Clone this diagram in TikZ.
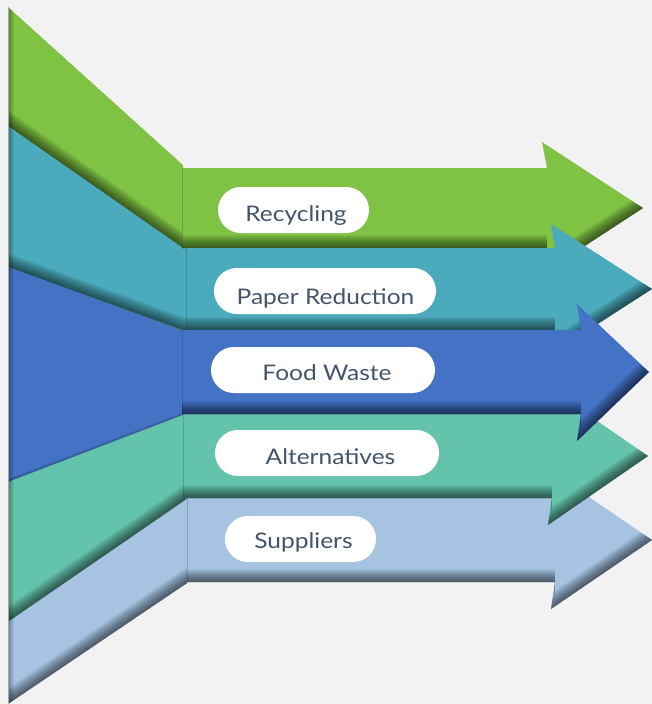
\documentclass[tikz,border=0pt]{standalone}
\usepackage{fontspec}
\setmainfont[FakeStretch=1.14]{Lato}
\definecolor{bg}{HTML}{F2F2F2}
\definecolor{cgreen}{HTML}{7FC244}
\definecolor{cteal}{HTML}{4BAABB}
\definecolor{cblue}{HTML}{4472C4}
\definecolor{cmint}{HTML}{64C3AB}
\definecolor{csky}{HTML}{A6C4E2}
\definecolor{ctext}{HTML}{44546A}
\definecolor{cunder}{HTML}{5A7480}
\newcommand{\softedge}[1]{\foreach \w in {2,4,...,26}{\draw[black,opacity=0.05,line width=\w pt,line cap=butt,line join=round] #1;}}
\newcommand{\softleft}[1]{\foreach \w in {2,4,...,12}{\draw[black,opacity=0.06,line width=\w pt,line cap=butt] #1;}}
\newcommand{\seam}[1]{\draw[black,opacity=0.16,line width=1.4pt] #1;}
\tikzset{
  pill/.style={fill=white,rounded corners=22.9pt,minimum height=46pt,inner sep=0pt},
  lbl/.style={anchor=base,inner sep=0pt,text=ctext,font=\fontsize{21.5}{25}\selectfont},
}
\begin{document}
\begin{tikzpicture}[x=1pt,y=-1pt]
\useasboundingbox (0,0) rectangle (652,704);
\fill[bg] (0,0) rectangle (652,704);
% underlay to hide hairline seams
\fill[cunder] (9,20) -- (183,170) -- (187,583) -- (9,700) -- cycle;
\fill[cunder] (184,170) rectangle (548,580);
% ---------- funnel pieces ----------
\begin{scope}
\clip (8,7) -- (183,165) -- (183,248) -- (8,126) -- cycle;
\fill[cgreen] (8,7) -- (183,165) -- (183,248) -- (8,126) -- cycle;
\softedge{(0,120.5) -- (190,253)}
\softleft{(8,0) -- (8,140)}
\end{scope}
\begin{scope}
\clip (8,126) -- (183,248) -- (186,248) -- (186,331) -- (8,267) -- cycle;
\fill[cteal] (8,126) -- (183,248) -- (186,248) -- (186,331) -- (8,267) -- cycle;
\softedge{(0,264) -- (195,335)}
\softleft{(8,110) -- (8,280)}
\end{scope}
\begin{scope}
\clip (8,267) -- (183,331) -- (183,415) -- (8,482) -- cycle;
\fill[cblue] (8,267) -- (183,331) -- (183,415) -- (8,482) -- cycle;
\foreach \w in {2,4,6}{\draw[black,opacity=0.08,line width=\w pt] (0,485) -- (195,411);}
\softleft{(8,250) -- (8,500)}
\end{scope}
\begin{scope}
\clip (8,482) -- (183,415) -- (185,415) -- (185,500) -- (8,622) -- cycle;
\fill[cmint] (8,482) -- (183,415) -- (185,415) -- (185,500) -- (8,622) -- cycle;
\softedge{(0,627.5) -- (195,493)}
\softleft{(8,470) -- (8,640)}
\end{scope}
\begin{scope}
\clip (8,622) -- (187,499) -- (187,583) -- (8,704) -- cycle;
\fill[csky] (8,622) -- (187,499) -- (187,583) -- (8,704) -- cycle;
\softedge{(0,709.5) -- (197,576)}
\softleft{(8,600) -- (8,704)}
\end{scope}
\draw[gray!70,line width=0.8pt] (8,7) -- (8,704);
% ---------- arrows ----------
% green
\begin{scope}
\clip (182,168) -- (547,168) -- (542,142) -- (643,208) -- (542,274) -- (547,248) -- (182,248) -- cycle;
\fill[cgreen] (182,168) -- (547,168) -- (542,142) -- (643,208) -- (542,274) -- (547,248) -- (182,248) -- cycle;
\softedge{(182,248) -- (547,248)}
\softedge{(542,274) -- (643,208)}
\seam{(182,160) -- (182,255)}
\end{scope}
% teal
\begin{scope}
\clip (186,248) -- (555,248) -- (551,224) -- (652,289) -- (551,354) -- (555,330) -- (186,330) -- cycle;
\fill[cteal] (186,248) -- (555,248) -- (551,224) -- (652,289) -- (551,354) -- (555,330) -- (186,330) -- cycle;
\softedge{(186,330) -- (555,330)}
\softedge{(551,354) -- (652,289)}
\seam{(186,240) -- (186,340)}
\end{scope}
% sky (suppliers)
\begin{scope}
\clip (187,498) -- (555,498) -- (551,471) -- (652,540) -- (551,609) -- (555,582) -- (187,582) -- cycle;
\fill[csky] (187,498) -- (555,498) -- (551,471) -- (652,540) -- (551,609) -- (555,582) -- (187,582) -- cycle;
\softedge{(187,582) -- (555,582)}
\softedge{(551,609) -- (652,540)}
\seam{(187,490) -- (187,590)}
\end{scope}
% mint (alternatives)
\begin{scope}
\clip (183,414) -- (552,414) -- (548,387) -- (648,456) -- (548,525) -- (552,498) -- (183,498) -- cycle;
\fill[cmint] (183,414) -- (552,414) -- (548,387) -- (648,456) -- (548,525) -- (552,498) -- (183,498) -- cycle;
\softedge{(183,498) -- (552,498)}
\softedge{(548,525) -- (648,456)}
\seam{(183,405) -- (183,505)}
\end{scope}
% blue
\begin{scope}
\clip (182,330) -- (581,330) -- (577,304) -- (649,372) -- (577,441) -- (581,414) -- (182,414) -- cycle;
\fill[cblue] (182,330) -- (581,330) -- (577,304) -- (649,372) -- (577,441) -- (581,414) -- (182,414) -- cycle;
\softedge{(182,414) -- (581,414)}
\softedge{(577,441) -- (649,372)}
\seam{(182,320) -- (182,420)}
\end{scope}
% ---------- labels ----------
\node[pill,minimum width=151pt] (recycling) at (293.5,210) {};
\node[pill,minimum width=222pt] (paper) at (325,291) {};
\node[pill,minimum width=224pt] (food) at (323,370) {};
\node[pill,minimum width=224pt] (alt) at (327,453) {};
\node[pill,minimum width=151pt] (supp) at (300.5,539) {};
\node[lbl] (t1) at (296,221.5) {Recycling};
\node[lbl] (t2) at (325.5,304.5) {Paper Reduction};
\node[lbl] (t3) at (327,380.5) {Food Waste};
\node[lbl] (t4) at (330.5,464) {Alternatives};
\node[lbl] (t5) at (303.5,548) {Suppliers};
\end{tikzpicture}
\end{document}
